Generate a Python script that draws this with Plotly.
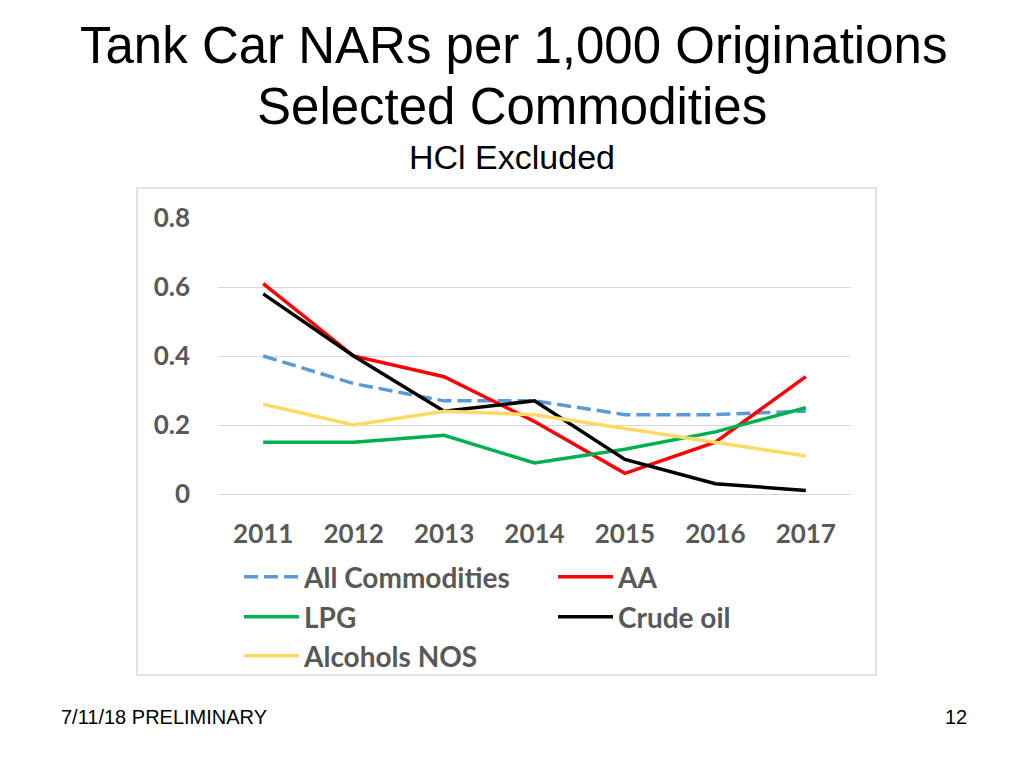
import plotly.graph_objects as go

years = ["2011", "2012", "2013", "2014", "2015", "2016", "2017"]
all_commodities = [0.40, 0.32, 0.27, 0.27, 0.23, 0.23, 0.24]
aa = [0.61, 0.40, 0.34, 0.21, 0.06, 0.15, 0.34]
lpg = [0.15, 0.15, 0.17, 0.09, 0.13, 0.18, 0.25]
crude_oil = [0.58, 0.40, 0.24, 0.27, 0.10, 0.03, 0.01]
alcohols_nos = [0.26, 0.20, 0.24, 0.23, 0.19, 0.15, 0.11]
y_ticks = [0, 0.2, 0.4, 0.6, 0.8]
y_tick_text = ["0", "0.2", "0.4", "0.6", "0.8"]

W, H = 1024, 768
L, R, T, B = 218, 1024 - 851, 218, 768 - 494
PW, PH = W - L - R, H - T - B

def px_x(x):
    return (x - L) / PW

def px_y(y):
    return (H - B - y) / PH

fig = go.Figure()
series = [
    ("All Commodities", all_commodities, "#5B9BD5", "14px,6px", "legend"),
    ("AA", aa, "#FF0000", "solid", "legend"),
    ("LPG", lpg, "#00B050", "solid", "legend2"),
    ("Crude oil", crude_oil, "#000000", "solid", "legend2"),
    ("Alcohols NOS", alcohols_nos, "#FFD966", "solid", "legend3"),
]
for name, vals, color, dash, leg in series:
    fig.add_trace(go.Scatter(x=years, y=vals, name=name, mode="lines", legend=leg,
                             line=dict(color=color, width=3.5, dash=dash)))

tick_font = dict(family="Lato", size=26, color="#595959", weight="bold")
leg_font = dict(family="Lato", size=28, color="#595959", weight="bold")

def leg(ycenter):
    return dict(orientation="h", x=px_x(239), y=px_y(ycenter), xanchor="left", yanchor="middle",
                font=leg_font, itemwidth=55, entrywidth=244, bgcolor="rgba(0,0,0,0)")

fig.update_layout(
    width=W, height=H,
    margin=dict(l=L, r=R, t=T, b=B, pad=0, autoexpand=False),
    paper_bgcolor="white", plot_bgcolor="white",
    xaxis=dict(type="category", range=[-0.5, 6.5], showgrid=False, zeroline=False,
               showline=False, ticks="", tickfont=tick_font, ticklabelstandoff=22),
    yaxis=dict(range=[0, 0.8], tickvals=y_ticks, ticktext=y_tick_text,
               showgrid=True, gridcolor="#D9D9D9", gridwidth=1,
               zeroline=True, zerolinecolor="#D9D9D9", zerolinewidth=1,
               showline=False, ticks="", tickfont=tick_font, ticklabelstandoff=27),
    showlegend=True,
    legend=leg(577), legend2=leg(617), legend3=leg(656),
    shapes=[dict(type="rect", xref="paper", yref="paper",
                 x0=px_x(137), x1=px_x(876), y0=px_y(675), y1=px_y(188),
                 line=dict(color="#D9D9D9", width=1.5), fillcolor="rgba(0,0,0,0)", layer="below")],
    annotations=[
        dict(text="Tank Car NARs per 1,000 Originations", x=px_x(513), y=px_y(46),
             xref="paper", yref="paper", showarrow=False, xanchor="center", yanchor="middle",
             font=dict(family="Liberation Sans", size=51, color="#000000")),
        dict(text="Selected Commodities", x=px_x(512), y=px_y(106),
             xref="paper", yref="paper", showarrow=False, xanchor="center", yanchor="middle",
             font=dict(family="Liberation Sans", size=51, color="#000000")),
        dict(text="HCl Excluded", x=px_x(512), y=px_y(157),
             xref="paper", yref="paper", showarrow=False, xanchor="center", yanchor="middle",
             font=dict(family="Liberation Sans", size=34, color="#000000")),
        dict(text="7/11/18 PRELIMINARY", x=px_x(59), y=px_y(717),
             xref="paper", yref="paper", showarrow=False, xanchor="left", yanchor="middle",
             font=dict(family="Liberation Sans", size=20, color="#000000")),
        dict(text="12", x=px_x(969), y=px_y(717),
             xref="paper", yref="paper", showarrow=False, xanchor="right", yanchor="middle",
             font=dict(family="Liberation Sans", size=20, color="#000000")),
    ],
)

fig.write_html("out.html", config={"displayModeBar": False},
               post_script="document.body.style.margin='0';")
